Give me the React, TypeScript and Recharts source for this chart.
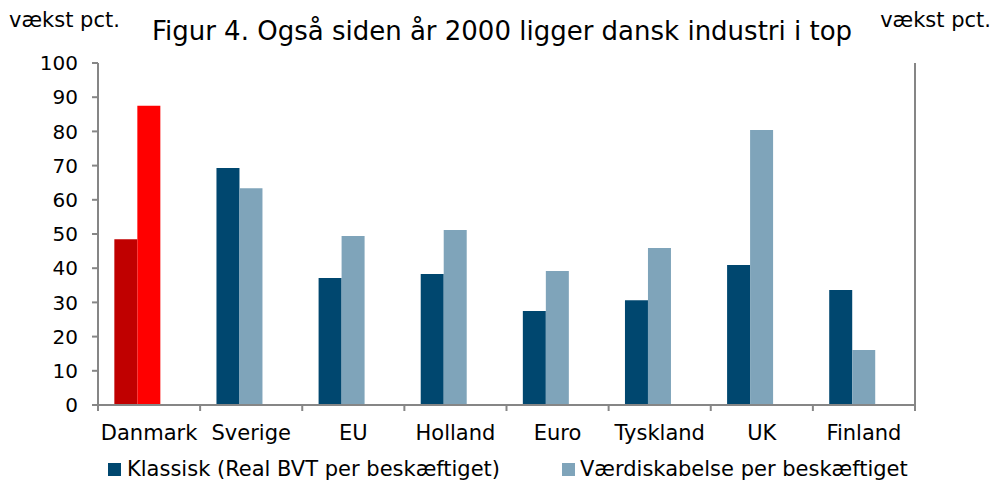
import React from "react";
import { BarChart, Bar, XAxis, YAxis, Cell } from "recharts";

const categories = ["Danmark", "Sverige", "EU", "Holland", "Euro", "Tyskland", "UK", "Finland"];
const klassisk = [48.5, 69.3, 37.1, 38.3, 27.5, 30.6, 40.9, 33.6];
const vaerdi = [87.5, 63.4, 49.4, 51.2, 39.2, 45.9, 80.4, 16.1];
const yTicks = [0, 10, 20, 30, 40, 50, 60, 70, 80, 90, 100];

const highlight = "Danmark";
const FONT = "'DejaVu Sans', Verdana, sans-serif";
const AXIS = "#868686";
const NAVY = "#00476F";
const LIGHT = "#7FA4BA";
const DARK_RED = "#C00000";
const RED = "#FF0000";

const data = categories.map((name, i) => ({
  name,
  klassisk: klassisk[i],
  vaerdi: vaerdi[i],
  spacer: null,
}));

function CategoryTick(props: any) {
  const { x, y, payload, index, width, visibleTicksCount } = props;
  const half = (width && visibleTicksCount ? width / visibleTicksCount : 102) / 2;
  const last = index === visibleTicksCount - 1;
  return (
    <g>
      <line x1={x - half} x2={x - half} y1={y - 6} y2={y} stroke={AXIS} strokeWidth={2} />
      {last && <line x1={x + half} x2={x + half} y1={y - 6} y2={y} stroke={AXIS} strokeWidth={2} />}
      <text x={x} y={y + 29} textAnchor="middle" fontSize={21} fontFamily={FONT} fill="#000">
        {payload.value}
      </text>
    </g>
  );
}

export default function App() {
  return (
    <div style={{ position: "absolute", left: 0, top: 0, width: 994, height: 483, background: "#fff", fontFamily: FONT }}>
      <div style={{ position: "absolute", left: 9, top: 7, fontSize: 21, lineHeight: "26px" }}>vækst pct.</div>
      <div style={{ position: "absolute", right: 3, top: 7, fontSize: 21, lineHeight: "26px" }}>vækst pct.</div>
      <div style={{ position: "absolute", left: 0, width: 1004, top: 15, textAlign: "center", fontSize: 26, lineHeight: "32px" }}>
        Figur 4. Også siden år 2000 ligger dansk industri i top
      </div>
      <BarChart
        width={994}
        height={483}
        data={data}
        margin={{ top: 63, right: 19, bottom: 48, left: 38 }}
        barCategoryGap="16%"
        barGap={0}
      >
        <XAxis
          dataKey="name"
          height={30}
          axisLine={{ stroke: AXIS, strokeWidth: 2 }}
          tickLine={false}
          tickSize={6}
          tickMargin={0}
          interval={0}
          tick={<CategoryTick />}
        />
        <YAxis
          yAxisId="left"
          width={60}
          domain={[0, 100]}
          ticks={yTicks}
          interval={0}
          axisLine={{ stroke: AXIS, strokeWidth: 2 }}
          tickLine={{ stroke: AXIS, strokeWidth: 2 }}
          tickSize={6}
          tickMargin={14}
          tick={{ fontSize: 20, fill: "#000", fontFamily: FONT }}
        />
        <YAxis
          yAxisId="right"
          orientation="right"
          width={60}
          domain={[0, 100]}
          ticks={yTicks}
          interval={0}
          axisLine={{ stroke: AXIS, strokeWidth: 2 }}
          tickLine={{ stroke: AXIS, strokeWidth: 2 }}
          tickSize={5}
          tickMargin={10}
          tick={{ fontSize: 20, fill: "#000", fontFamily: FONT, textAnchor: "start" }}
        />
        <Bar yAxisId="left" dataKey="klassisk" fill={NAVY} isAnimationActive={false}>
          {data.map((d) => (
            <Cell key={d.name} fill={d.name === highlight ? DARK_RED : NAVY} />
          ))}
        </Bar>
        <Bar yAxisId="left" dataKey="vaerdi" fill={LIGHT} isAnimationActive={false}>
          {data.map((d) => (
            <Cell key={d.name} fill={d.name === highlight ? RED : LIGHT} />
          ))}
        </Bar>
        <Bar yAxisId="left" dataKey="spacer" fill="none" isAnimationActive={false} />
      </BarChart>
      <div style={{ position: "absolute", left: 108, top: 456, fontSize: 21, lineHeight: "26px", display: "flex", alignItems: "center" }}>
        <span style={{ display: "inline-block", width: 13, height: 13, background: NAVY, marginRight: 6 }} />
        Klassisk (Real BVT per beskæftiget)
      </div>
      <div style={{ position: "absolute", left: 562, top: 456, fontSize: 21, lineHeight: "26px", display: "flex", alignItems: "center" }}>
        <span style={{ display: "inline-block", width: 13, height: 13, background: LIGHT, marginRight: 5 }} />
        Værdiskabelse per beskæftiget
      </div>
    </div>
  );
}
